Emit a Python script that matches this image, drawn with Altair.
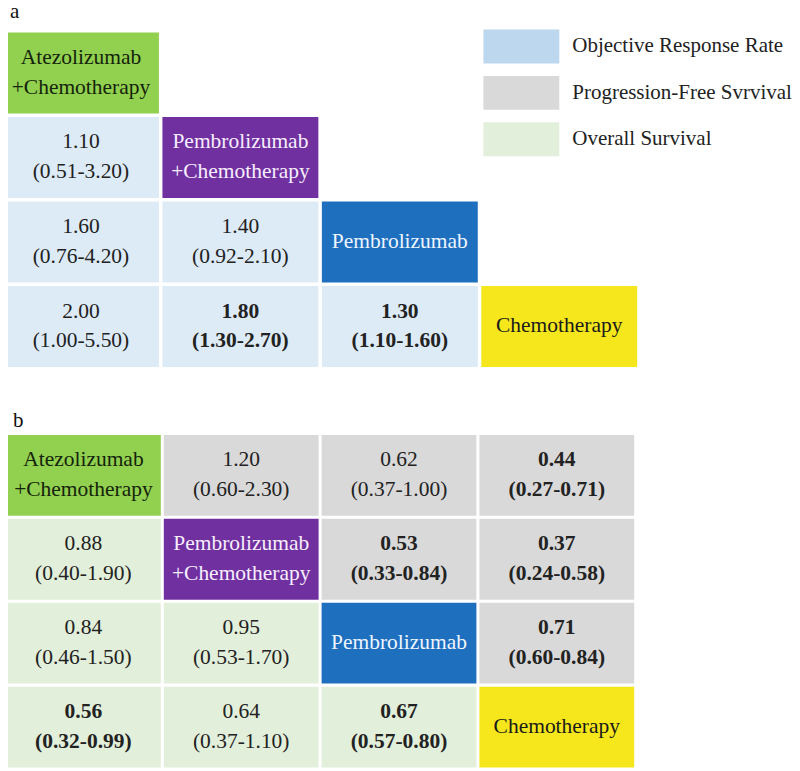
import altair as alt
import pandas as pd

# ---------------- data ----------------
treatments = ["Atezolizumab\n+Chemotherapy", "Pembrolizumab\n+Chemotherapy",
              "Pembrolizumab", "Chemotherapy"]
diag_keys = ["D0", "D1", "D2", "D3"]
diag_fill = ["#92D050", "#7030A0", "#1F6FBF", "#F5E71C"]
diag_text = ["#14240A", "#F7EEFF", "#EEF5FF", "#1A1A1A"]

# panel a: Objective Response Rate (lower triangle)
orr_row = [1, 2, 2, 3, 3, 3]
orr_col = [0, 0, 1, 0, 1, 2]
orr_est = [1.10, 1.60, 1.40, 2.00, 1.80, 1.30]
orr_lo = [0.51, 0.76, 0.92, 1.00, 1.30, 1.10]
orr_hi = [3.20, 4.20, 2.10, 5.50, 2.70, 1.60]
orr_sig = [False, False, False, False, True, True]

# panel b: Progression-Free Survival (upper triangle)
pfs_row = [0, 0, 0, 1, 1, 2]
pfs_col = [1, 2, 3, 2, 3, 3]
pfs_est = [1.20, 0.62, 0.44, 0.53, 0.37, 0.71]
pfs_lo = [0.60, 0.37, 0.27, 0.33, 0.24, 0.60]
pfs_hi = [2.30, 1.00, 0.71, 0.84, 0.58, 0.84]
pfs_sig = [False, False, True, True, True, True]

# panel b: Overall Survival (lower triangle)
os_row = [1, 2, 2, 3, 3, 3]
os_col = [0, 0, 1, 0, 1, 2]
os_est = [0.88, 0.84, 0.95, 0.56, 0.64, 0.67]
os_lo = [0.40, 0.46, 0.53, 0.32, 0.37, 0.57]
os_hi = [1.90, 1.50, 1.70, 0.99, 1.10, 0.80]
os_sig = [False, False, False, True, False, True]

legend_labels = ["Objective Response Rate", "Progression-Free Svrvival", "Overall Survival"]
legend_colors = ["#BDD7EE", "#D9D9D9", "#E2EFDA"]
orr_cell_key = "ORR cell"
orr_cell_color = "#DDEBF7"

FONT = "Liberation Serif"
NUM_COLOR = "#222222"


def diag_rows():
    return [dict(row=i, col=i, kind=diag_keys[i], text=treatments[i],
                 bold=False, tc=diag_text[i]) for i in range(4)]


def cell_rows(rows, cols, est, lo, hi, sig, kind):
    out = []
    for r, c, e, l, h, s in zip(rows, cols, est, lo, hi, sig):
        out.append(dict(row=r, col=c, kind=kind,
                        text=f"{e:.2f}\n({l:.2f}-{h:.2f})",
                        bold=s, tc=NUM_COLOR))
    return out


df_a = pd.DataFrame(diag_rows() + cell_rows(orr_row, orr_col, orr_est, orr_lo, orr_hi,
                                            orr_sig, orr_cell_key))
df_b = pd.DataFrame(diag_rows()
                    + cell_rows(pfs_row, pfs_col, pfs_est, pfs_lo, pfs_hi, pfs_sig, legend_labels[1])
                    + cell_rows(os_row, os_col, os_est, os_lo, os_hi, os_sig, legend_labels[2]))
df_a["lines"] = df_a["text"].str.count("\n")
df_b["lines"] = df_b["text"].str.count("\n")

color_scale = alt.Scale(domain=legend_labels + [orr_cell_key] + diag_keys,
                        range=legend_colors + [orr_cell_color] + diag_fill)

legend = alt.Legend(
    title=None, orient="none", legendX=502, legendY=-3, direction="vertical",
    values=legend_labels, symbolType="M-2.235,-1H2.235V1H-2.235Z", symbolSize=1156,
    symbolStrokeWidth=0, labelFont=FONT, labelFontSize=21, labelColor=NUM_COLOR,
    labelOffset=34, rowPadding=12.5, labelLimit=400, padding=0,
)

LINE_H = 30
FS = 21.5


def panel(df, title, width, height, pad_x, pad_y, title_offset):
    base = alt.Chart(df).encode(
        x=alt.X("col:O", axis=None,
                scale=alt.Scale(paddingInner=pad_x, paddingOuter=0)),
        y=alt.Y("row:O", axis=None,
                scale=alt.Scale(paddingInner=pad_y, paddingOuter=0)),
    )
    rect = base.mark_rect(strokeWidth=0).encode(
        color=alt.Color("kind:N", scale=color_scale, legend=legend)
    )
    layers = [rect]
    for nl in (0, 1):
        for bold in (False, True):
            flt = f"datum.lines == {nl} && {'datum.bold' if bold else '!datum.bold'}"
            layers.append(
                base.transform_filter(flt).mark_text(
                    font=FONT, fontSize=FS, fontWeight="bold" if bold else "normal",
                    lineBreak="\n", lineHeight=LINE_H, baseline="middle",
                    dy=-nl * LINE_H / 2,
                ).encode(text="text:N", color=alt.Color("tc:N", scale=None))
            )
    return alt.layer(*layers).properties(
        width=width, height=height,
        title=alt.Title(title, anchor="start", font=FONT, fontSize=21,
                        fontWeight="normal", color="#111111", dx=7,
                        offset=title_offset),
    )


chart_a = panel(df_a, "a", 635, 335, 0.022, 0.041, 10)
chart_b = panel(df_b, "b", 629, 333, 0.019, 0.036, 4)

chart = alt.vconcat(chart_a, chart_b, spacing=43, center=True).properties(
    padding={"left": -5, "top": -7, "right": 0, "bottom": 0},
    background="white",
).configure(font=FONT).configure_text(font=FONT).configure_view(stroke=None)

chart.save("out.html", embed_options={"renderer": "svg", "actions": False})
